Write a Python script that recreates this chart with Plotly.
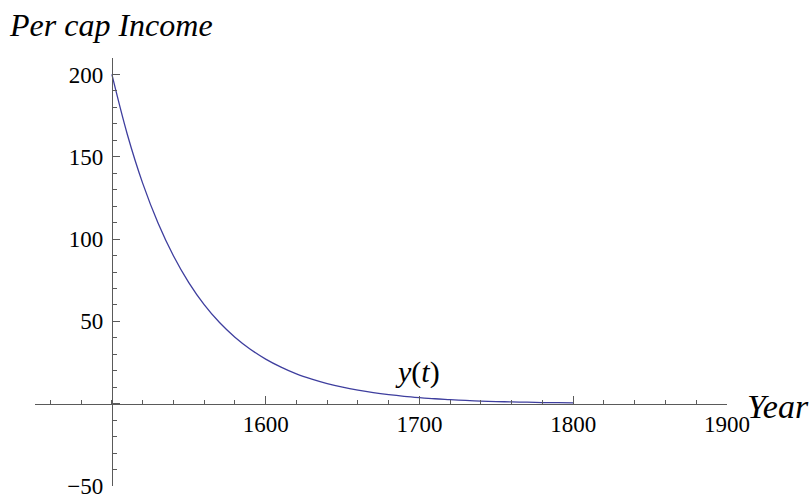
import plotly.graph_objects as go

# Data
years = [1500, 1510, 1520, 1530, 1540, 1550, 1560, 1570, 1580, 1590, 1600,
         1610, 1620, 1630, 1640, 1650, 1660, 1670, 1680, 1690, 1700,
         1710, 1720, 1730, 1740, 1750, 1760, 1770, 1780, 1790, 1800]
income = [200, 163.7, 134.0, 109.8, 89.9, 73.6, 60.2, 49.3, 40.4, 33.1, 27.1,
          22.2, 18.1, 14.9, 12.2, 10.0, 8.2, 6.7, 5.5, 4.5, 3.7,
          3.0, 2.5, 2.0, 1.6, 1.3, 1.1, 0.9, 0.7, 0.6, 0.5]

x_ticks = [1600, 1700, 1800, 1900]
y_ticks = [200, 150, 100, 50, -50]

x_range = [1450, 1900]
y_range = [-50, 210]
x_origin = 1500
y_origin = 0

serif = "Liberation Serif"
axis_col = "#5a5a5a"

fig = go.Figure()
fig.add_trace(go.Scatter(x=years, y=income, mode="lines",
                         line=dict(color="rgb(62,62,158)", width=1.3, shape="spline"),
                         hoverinfo="skip", showlegend=False))

fig.update_layout(
    width=811, height=498,
    margin=dict(l=35, r=84, t=58, b=12),
    paper_bgcolor="white", plot_bgcolor="white",
    font=dict(family=serif, color="black", size=23),
    xaxis=dict(range=x_range, showgrid=False, zeroline=False,
               showline=True, linecolor=axis_col, linewidth=1.2,
               anchor="free",
               position=(y_origin - y_range[0]) / (y_range[1] - y_range[0]),
               tickmode="array", tickvals=x_ticks,
               ticktext=[str(v) for v in x_ticks],
               ticks="inside", ticklen=8, tickcolor=axis_col, tickwidth=1,
               minor=dict(ticks="inside", ticklen=4, tickcolor=axis_col,
                          tickwidth=1, tick0=1460, dtick=20),
               tickfont=dict(size=23, family=serif, color="black"),
               ticklabeloverflow="allow",
               automargin=False, fixedrange=True),
    yaxis=dict(range=y_range, showgrid=False, zeroline=False,
               showline=True, linecolor=axis_col, linewidth=1.2,
               anchor="free",
               position=(x_origin - x_range[0]) / (x_range[1] - x_range[0]),
               tickmode="array", tickvals=y_ticks + [0],
               ticktext=[("\u2212" + str(-v)) if v < 0 else str(v) for v in y_ticks] + [""],
               ticks="inside", ticklen=7, tickcolor=axis_col, tickwidth=1,
               minor=dict(ticks="inside", ticklen=4, tickcolor=axis_col,
                          tickwidth=1, tick0=-50, dtick=10),
               tickfont=dict(size=23, family=serif, color="black"),
               ticklabeloverflow="allow", ticklabelstandoff=4,
               automargin=False, fixedrange=True),
)

fig.add_annotation(text="<i>Per cap Income</i>", xref="paper", yref="paper",
                   x=-0.04, y=1.0, xanchor="left", yanchor="bottom", yshift=13,
                   showarrow=False, font=dict(family=serif, size=32, color="black"))
fig.add_annotation(text="<i>Year</i>", xref="paper", yref="y",
                   x=1.0, y=y_origin, xanchor="left", yanchor="middle",
                   xshift=18, yshift=-3,
                   showarrow=False, font=dict(family=serif, size=34, color="black"))
fig.add_annotation(text="<i>y</i>(<i>t</i>)", xref="x", yref="y",
                   x=1699, y=19, xanchor="center", yanchor="middle",
                   showarrow=False, font=dict(family=serif, size=30, color="black"))

fig.write_html("out.html", config={"displayModeBar": False},
               post_script="document.body.style.margin='0';")
